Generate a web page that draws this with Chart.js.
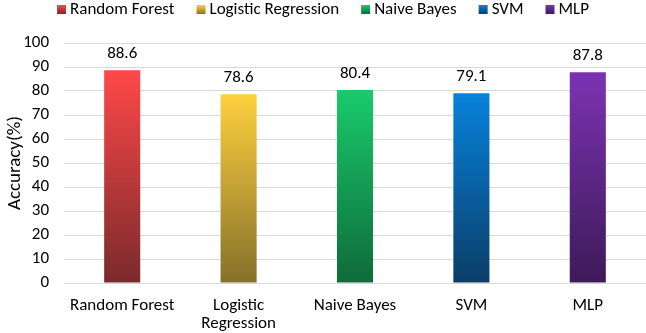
<!DOCTYPE html>
<html><head><meta charset="utf-8">
<script src="https://cdn.jsdelivr.net/npm/chart.js@4"></script>
<style>html,body{margin:0;padding:0;background:#fff}#w{width:646px;height:333px}</style>
</head><body><div id="w"><canvas id="c"></canvas></div>
<script>
const categories = ["Random Forest", ["Logistic","Regression"], "Naive Bayes", "SVM", "MLP"];
const legendNames = ["Random Forest", "Logistic Regression", "Naive Bayes", "SVM", "MLP"];
const accuracy = [88.6, 78.6, 80.4, 79.1, 87.8];
const topColors = ["#FF4848", "#FFD13F", "#19CB6C", "#0783DB", "#7C33B3"];
const bottomColors = ["#7A2A2C", "#85702A", "#0F6A3A", "#0B3D68", "#3D1A58"];
const yTicks = [0,10,20,30,40,50,60,70,80,90,100];

const FONT = "Carlito, Lato, 'Open Sans', sans-serif";
const FS = 17;
function grad(ctx, i){
  const ch = ctx.chart; const a = ch.chartArea;
  if(!a) return topColors[i];
  const y = ch.scales.y;
  const g = ch.ctx.createLinearGradient(0, y.getPixelForValue(accuracy[i]), 0, y.getPixelForValue(0));
  g.addColorStop(0, topColors[i]); g.addColorStop(1, bottomColors[i]);
  return g;
}
const labelPlugin = {
  id:'vals',
  afterDatasetsDraw(chart){
    const c = chart.ctx; const meta = chart.getDatasetMeta(0);
    c.save(); c.fillStyle="#000"; c.font=FS+"px "+FONT; c.textAlign="center"; c.textBaseline="alphabetic";
    meta.data.forEach((b,i)=>{ c.fillText(accuracy[i].toFixed(1), b.x, b.y-12); });
    c.restore();
  }
};
const legendPlugin = {
  id:'customLegend',
  afterDraw(chart){
    const c = chart.ctx; c.save();
    c.font = FS+"px "+FONT; c.textBaseline="middle"; c.textAlign="left";
    const box=9, gapText=4, gapItem=22;
    const widths = legendNames.map(n=>box+gapText+c.measureText(n).width);
    const total = widths.reduce((a,b)=>a+b,0)+gapItem*(widths.length-1);
    let x = (chart.width-total)/2; const cy = 9.5;
    legendNames.forEach((n,i)=>{
      const g = c.createLinearGradient(0, cy-box/2, 0, cy+box/2);
      g.addColorStop(0, topColors[i]); g.addColorStop(1, bottomColors[i]);
      c.fillStyle = g; c.fillRect(x, cy-box/2, box, box);
      c.fillStyle="#000"; c.fillText(n, x+box+gapText, cy+0.5);
      x += widths[i]+gapItem;
    });
    c.restore();
  }
};
new Chart(document.getElementById('c'), {
  type:'bar',
  data:{ labels: categories, datasets:[{ data: accuracy,
    backgroundColor: (ctx)=>grad(ctx, ctx.dataIndex),
    barPercentage: 0.31, categoryPercentage: 1.0 }]},
  options:{
    responsive:true, maintainAspectRatio:false, animation:false,
    layout:{ padding:{ top:43, right:0, bottom:0, left:0 } },
    plugins:{ tooltip:{enabled:false}, legend:{display:false} },
    scales:{
      x:{ grid:{display:false}, border:{display:false},
        afterFit:(s)=>{ s.height = 50; },
        ticks:{ font:{family:FONT,size:FS,lineHeight:1.06}, color:'#000', maxRotation:0, autoSkip:false, padding:6 } },
      y:{ min:0, max:100, afterBuildTicks:(s)=>{ s.ticks = yTicks.map(v=>({value:v})); },
        afterFit:(s)=>{ s.width = 64; },
        grid:{ color:'#D9D9D9', lineWidth:1, drawTicks:false }, border:{display:false},
        ticks:{ font:{family:FONT,size:FS}, color:'#000', padding:15 },
        title:{ display:true, text:'Accuracy(%)', font:{family:FONT,size:19}, color:'#000', padding:{top:4,bottom:0} } }
    }
  },
  plugins:[labelPlugin, legendPlugin]
});
</script></body></html>
